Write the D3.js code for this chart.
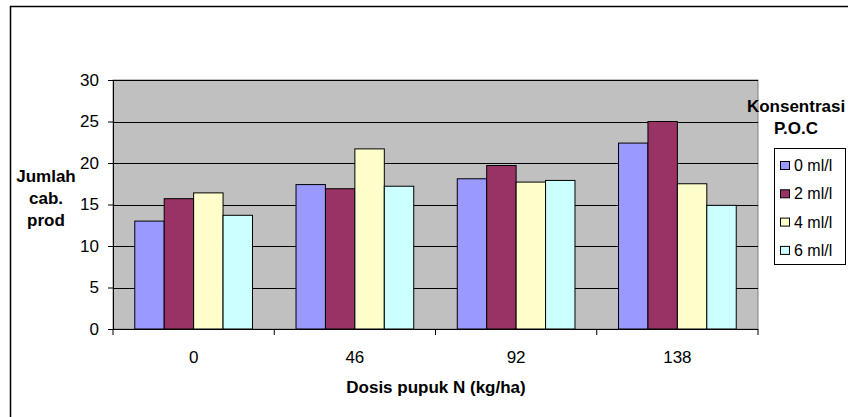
<!DOCTYPE html>
<html>
<head>
<meta charset="utf-8">
<script src="https://cdn.jsdelivr.net/npm/d3@7"></script>
<style>
  body { margin: 0; background: #fff; }
  text { font-family: "Liberation Sans", Arial, sans-serif; }
</style>
</head>
<body>
<script>
// data
const categories = ["0", "46", "92", "138"];
const seriesNames = ["0 ml/l", "2 ml/l", "4 ml/l", "6 ml/l"];
const s0 = [13.0, 17.4, 18.1, 22.4];
const s1 = [15.7, 16.9, 19.7, 25.0];
const s2 = [16.4, 21.7, 17.7, 17.5];
const s3 = [13.7, 17.2, 17.9, 14.9];
const yTicks = [0, 5, 10, 15, 20, 25, 30];
const colors = ["#9999FF", "#993366", "#FFFFCC", "#CCFFFF"];

const seriesValues = [s0, s1, s2, s3];

const width = 848, height = 417;
const plot = { left: 113, right: 758, top: 80, bottom: 329 };

const svg = d3.select("body").append("svg")
  .attr("width", width)
  .attr("height", height);

// outer chart border
svg.append("rect")
  .attr("x", 10.5).attr("y", 6.5)
  .attr("width", 850).attr("height", 420)
  .attr("fill", "white").attr("stroke", "black").attr("stroke-width", 1.5);

const x0 = d3.scaleBand()
  .domain(categories)
  .range([plot.left, plot.right])
  .paddingInner(0.27).paddingOuter(0.135);

const x1 = d3.scaleBand()
  .domain(seriesNames)
  .range([0, x0.bandwidth()]);

const y = d3.scaleLinear().domain([0, 30]).range([plot.bottom, plot.top]);

// plot background
svg.append("rect")
  .attr("x", plot.left).attr("y", plot.top)
  .attr("width", plot.right - plot.left).attr("height", plot.bottom - plot.top)
  .attr("fill", "#C0C0C0").attr("stroke", "#808080").attr("stroke-width", 1);

// gridlines
svg.append("g").selectAll("line")
  .data(yTicks.filter(d => d > 0))
  .enter().append("line")
  .attr("x1", plot.left).attr("x2", plot.right)
  .attr("y1", d => Math.round(y(d)) + 0.5).attr("y2", d => Math.round(y(d)) + 0.5)
  .attr("stroke", "black").attr("stroke-width", 1);

// bars
const groups = svg.append("g").selectAll("g")
  .data(categories)
  .enter().append("g")
  .attr("transform", d => "translate(" + x0(d) + ",0)");

groups.selectAll("rect")
  .data((c, ci) => seriesNames.map((s, si) => ({ s: s, si: si, v: seriesValues[si][ci] })))
  .enter().append("rect")
  .attr("x", d => x1(d.s))
  .attr("width", x1.bandwidth())
  .attr("y", d => y(d.v))
  .attr("height", d => y(0) - y(d.v))
  .attr("fill", d => colors[d.si])
  .attr("stroke", "black").attr("stroke-width", 1);

// y axis
const yAxis = d3.axisLeft(y).tickValues(yTicks).tickSize(5).tickPadding(9);
const yg = svg.append("g")
  .attr("transform", "translate(" + plot.left + ",0)")
  .call(yAxis);
yg.select(".domain").attr("stroke", "black");
yg.selectAll("line").attr("stroke", "black");
yg.selectAll("text").attr("font-size", 17).attr("fill", "black")
  .style("font-family", "'Liberation Sans', Arial, sans-serif");

// x axis with ticks between categories
const xTickPos = d3.range(categories.length + 1)
  .map(i => plot.left + i * (plot.right - plot.left) / categories.length);
svg.append("line")
  .attr("x1", plot.left).attr("x2", plot.right)
  .attr("y1", plot.bottom + 0.5).attr("y2", plot.bottom + 0.5)
  .attr("stroke", "black");
svg.append("g").selectAll("line")
  .data(xTickPos)
  .enter().append("line")
  .attr("x1", d => d).attr("x2", d => d)
  .attr("y1", plot.bottom).attr("y2", plot.bottom + 6)
  .attr("stroke", "black");
svg.append("g").selectAll("text")
  .data(categories)
  .enter().append("text")
  .attr("x", d => x0(d) + x0.bandwidth() / 2)
  .attr("y", 363)
  .attr("text-anchor", "middle")
  .attr("font-size", 17)
  .text(d => d);

// axis titles
svg.append("text")
  .attr("x", 436).attr("y", 393)
  .attr("text-anchor", "middle")
  .attr("font-size", 17).attr("font-weight", "bold")
  .text("Dosis pupuk N (kg/ha)");

const yTitle = svg.append("text")
  .attr("text-anchor", "middle")
  .attr("font-size", 17).attr("font-weight", "bold");
["Jumlah", "cab.", "prod"].forEach((t, i) => {
  yTitle.append("tspan").attr("x", 46).attr("y", 182 + i * 22).text(t);
});

// legend
const legTitle = svg.append("text")
  .attr("text-anchor", "middle")
  .attr("font-size", 17).attr("font-weight", "bold");
["Konsentrasi", "P.O.C"].forEach((t, i) => {
  legTitle.append("tspan").attr("x", 796).attr("y", 112 + i * 22).text(t);
});

svg.append("rect")
  .attr("x", 774.5).attr("y", 148.5)
  .attr("width", 71).attr("height", 116)
  .attr("fill", "white").attr("stroke", "black").attr("stroke-width", 1);

const leg = svg.append("g").selectAll("g")
  .data(seriesNames)
  .enter().append("g")
  .attr("transform", (d, i) => "translate(0," + (165 + i * 28.3) + ")");
leg.append("rect")
  .attr("x", 780.5).attr("y", -3.5)
  .attr("width", 9).attr("height", 8)
  .attr("fill", (d, i) => colors[i])
  .attr("stroke", "black").attr("stroke-width", 1);
leg.append("text")
  .attr("x", 794).attr("y", 6)
  .attr("font-size", 16)
  .text(d => d);
</script>
</body>
</html>
